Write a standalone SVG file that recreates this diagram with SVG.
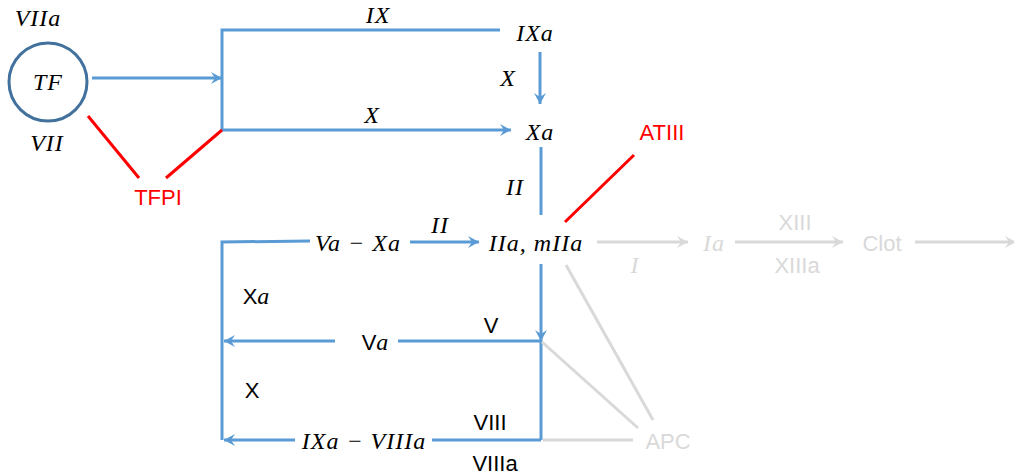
<svg xmlns="http://www.w3.org/2000/svg" width="1014" height="476" viewBox="0 0 1014 476">
<style>
.b{stroke:#5B9BD5;stroke-width:3;fill:none}
.g{stroke:#D9D9D9;stroke-width:3;fill:none}
.r{stroke:#FF0000;stroke-width:3;fill:none}
.m{font-family:"Liberation Serif","DejaVu Serif",serif;font-style:italic;font-size:24px;letter-spacing:1px;fill:#000;text-anchor:middle}
.s{font-family:"Liberation Sans",Arial,sans-serif;font-size:22px;fill:#000;text-anchor:middle}
.rt{fill:#FF0000}
.gt{fill:#D9D9D9}
</style>
<defs>
<marker id="ab" markerWidth="14" markerHeight="14" refX="12" refY="7" orient="auto" markerUnits="userSpaceOnUse">
<path d="M1,1 L12,7 L1,13 L5,7 Z" fill="#5B9BD5"/>
</marker>
<marker id="ag" markerWidth="14" markerHeight="14" refX="12" refY="7" orient="auto" markerUnits="userSpaceOnUse">
<path d="M1,1 L12,7 L1,13 L5,7 Z" fill="#D9D9D9"/>
</marker>
</defs>
<g id="connectors">
<line class="b" x1="92" y1="78" x2="222" y2="78" marker-end="url(#ab)"/>
<polyline class="b" points="500,30 222,30 222,130 511,130" marker-end="url(#ab)"/>
<line class="b" x1="540" y1="52" x2="540" y2="104" marker-end="url(#ab)"/>
<line class="b" x1="541" y1="147" x2="541" y2="215"/>
<line class="r" x1="565" y1="222" x2="634" y2="155"/>
<line class="r" x1="88" y1="116" x2="139" y2="178"/>
<line class="r" x1="166" y1="178" x2="222" y2="130"/>
<line class="b" x1="410" y1="242" x2="479" y2="242" marker-end="url(#ab)"/>
<polyline class="b" points="310,241 222,242 222,440"/>
<line class="b" x1="335" y1="341" x2="224" y2="341" marker-end="url(#ab)"/>
<line class="b" x1="398" y1="341" x2="541" y2="341"/>
<line class="b" x1="541" y1="264" x2="541" y2="341" marker-end="url(#ab)"/>
<line class="b" x1="541" y1="341" x2="541" y2="440"/>
<line class="b" x1="541" y1="440" x2="432" y2="440"/>
<line class="b" x1="295" y1="440" x2="224" y2="440" marker-end="url(#ab)"/>
<line class="g" x1="543" y1="440" x2="633" y2="440"/>
<line class="g" x1="542" y1="342" x2="638" y2="428"/>
<line class="g" x1="566" y1="265" x2="653" y2="420"/>
<line class="g" x1="597" y1="242" x2="688" y2="242" marker-end="url(#ag)"/>
<line class="g" x1="735" y1="242" x2="843" y2="242" marker-end="url(#ag)"/>
<line class="g" x1="915" y1="242" x2="1016" y2="242" marker-end="url(#ag)"/>
</g>
<g id="TF">
<circle cx="48" cy="82" r="39" fill="none" stroke="#41719C" stroke-width="3"/>
<text class="m" x="48" y="90">TF</text>
</g>
<g id="VIIa"><text class="m" x="38" y="26">VIIa</text></g>
<g id="VII"><text class="m" x="47" y="151">VII</text></g>
<g id="TFPI"><text class="s rt" x="158" y="205">TFPI</text></g>
<g id="lblIX"><text class="m" x="378" y="23">IX</text></g>
<g id="lblX1"><text class="m" x="372" y="123">X</text></g>
<g id="IXa"><text class="m" x="535" y="41">IXa</text></g>
<g id="lblX2"><text class="m" x="508" y="86">X</text></g>
<g id="Xa"><text class="m" x="540" y="140">Xa</text></g>
<g id="lblII1"><text class="m" x="515" y="195">II</text></g>
<g id="ATIII"><text class="s rt" x="662" y="140">ATIII</text></g>
<g id="IIa"><text class="m" x="536" y="251">IIa, mIIa</text></g>
<g id="VaXa"><text class="m" x="358" y="251">Va − Xa</text></g>
<g id="lblII2"><text class="m" x="440" y="233">II</text></g>
<g id="lblXa"><text class="s" x="256" y="304">X<tspan font-family="Liberation Serif" font-style="italic" font-size="24">a</tspan></text></g>
<g id="lblV"><text class="s" x="491" y="333">V</text></g>
<g id="Va"><text class="s" x="375" y="350">V<tspan font-family="Liberation Serif" font-style="italic" font-size="24">a</tspan></text></g>
<g id="lblX3"><text class="s" x="252" y="398">X</text></g>
<g id="lblVIII"><text class="s" x="490" y="430">VIII</text></g>
<g id="IXaVIIIa"><text class="m" x="364" y="449">IXa − VIIIa</text></g>
<g id="lblVIIIa"><text class="s" x="495" y="471">VIIIa</text></g>
<g id="APC"><text class="s gt" x="668" y="449">APC</text></g>
<g id="lblI"><text class="m gt" x="635" y="273">I</text></g>
<g id="Ia"><text class="m gt" x="714" y="251">Ia</text></g>
<g id="lblXIII"><text class="s gt" x="795" y="230">XIII</text></g>
<g id="lblXIIIa"><text class="s gt" x="797" y="273">XIIIa</text></g>
<g id="Clot"><text class="s gt" x="882" y="251">Clot</text></g>
</svg>
